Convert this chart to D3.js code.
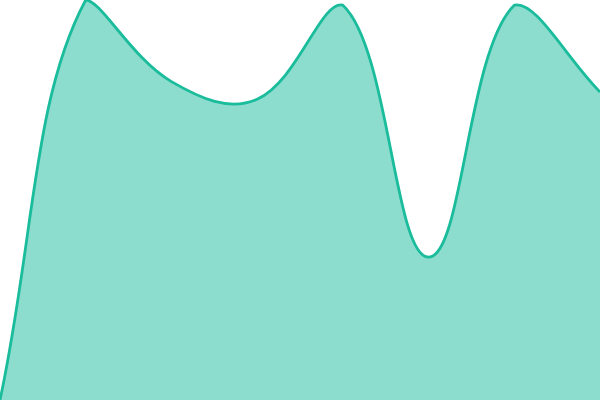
<!DOCTYPE html>
<html>
<head>
<meta charset="utf-8">
<script src="https://cdn.jsdelivr.net/npm/d3@7"></script>
<style>
  html, body { margin: 0; padding: 0; background: #fff; }
  svg { display: block; }
</style>
</head>
<body>
<svg id="chart" width="600" height="400"></svg>
<script>
// Data
const categories = [0, 1, 2, 3, 4, 5, 6, 7];
const values = [0, 100, 79.6, 75.2, 98.7, 35.7, 98.7, 77];

const width = 600, height = 400;
const svg = d3.select("#chart");

const x = d3.scaleLinear().domain(d3.extent(categories)).range([0, width]);
const y = d3.scaleLinear().domain([0, 100]).range([height, 0]);

// Tension spline with control points capped to the plotting area
function curveTension(tension, left, top, right, bottom) {
  function Curve(context) { this._context = context; }
  Curve.prototype = {
    areaStart() { this._line = 0; },
    areaEnd() { this._line = NaN; },
    lineStart() { this._pts = []; },
    point(px, py) { this._pts.push({ x: +px, y: +py }); },
    lineEnd() {
      const c = this._context, p = this._pts, n = p.length;
      if (n) {
        if (this._line) c.lineTo(p[0].x, p[0].y); else c.moveTo(p[0].x, p[0].y);
        if (n > 1) {
          const m = 0.5;
          const inArea = q => q.x > left - m && q.x < right + m && q.y > top - m && q.y < bottom + m;
          const clamp = (v, a, b) => Math.max(a, Math.min(b, v));
          for (let i = 0; i < n; i++) {
            const cur = p[i];
            const prev = i > 0 ? p[i - 1] : cur;
            const next = i < n - 1 ? p[i + 1] : cur;
            const d01 = Math.hypot(cur.x - prev.x, cur.y - prev.y);
            const d12 = Math.hypot(next.x - cur.x, next.y - cur.y);
            let s01 = d01 / (d01 + d12), s12 = d12 / (d01 + d12);
            if (isNaN(s01)) s01 = 0;
            if (isNaN(s12)) s12 = 0;
            const fa = tension * s01, fb = tension * s12;
            cur.cp1x = cur.x - fa * (next.x - prev.x);
            cur.cp1y = cur.y - fa * (next.y - prev.y);
            cur.cp2x = cur.x + fb * (next.x - prev.x);
            cur.cp2y = cur.y + fb * (next.y - prev.y);
          }
          for (let i = 0; i < n; i++) {
            const cur = p[i];
            if (!inArea(cur)) continue;
            if (i > 0 && inArea(p[i - 1])) {
              cur.cp1x = clamp(cur.cp1x, left, right);
              cur.cp1y = clamp(cur.cp1y, top, bottom);
            }
            if (i < n - 1 && inArea(p[i + 1])) {
              cur.cp2x = clamp(cur.cp2x, left, right);
              cur.cp2y = clamp(cur.cp2y, top, bottom);
            }
          }
          for (let i = 1; i < n; i++) {
            c.bezierCurveTo(p[i - 1].cp2x, p[i - 1].cp2y, p[i].cp1x, p[i].cp1y, p[i].x, p[i].y);
          }
        }
      }
      if (this._line || (this._line !== 0 && n === 1)) c.closePath();
      this._line = 1 - this._line;
    }
  };
  return context => new Curve(context);
}

const data = categories.map((c, i) => ({ c, v: values[i] }));
const curve = curveTension(0.4, 0, 0, width, height);

const area = d3.area()
  .x(d => x(d.c))
  .y0(y(0))
  .y1(d => y(d.v))
  .curve(curve);

const line = d3.line()
  .x(d => x(d.c))
  .y(d => y(d.v))
  .curve(curve);

svg.append("path")
  .datum(data)
  .attr("d", area)
  .attr("fill", "#1abc9c")
  .attr("fill-opacity", 0.5);

svg.append("path")
  .datum(data)
  .attr("d", line)
  .attr("fill", "none")
  .attr("stroke", "#1abc9c")
  .attr("stroke-width", 2.8);
</script>
</body>
</html>
